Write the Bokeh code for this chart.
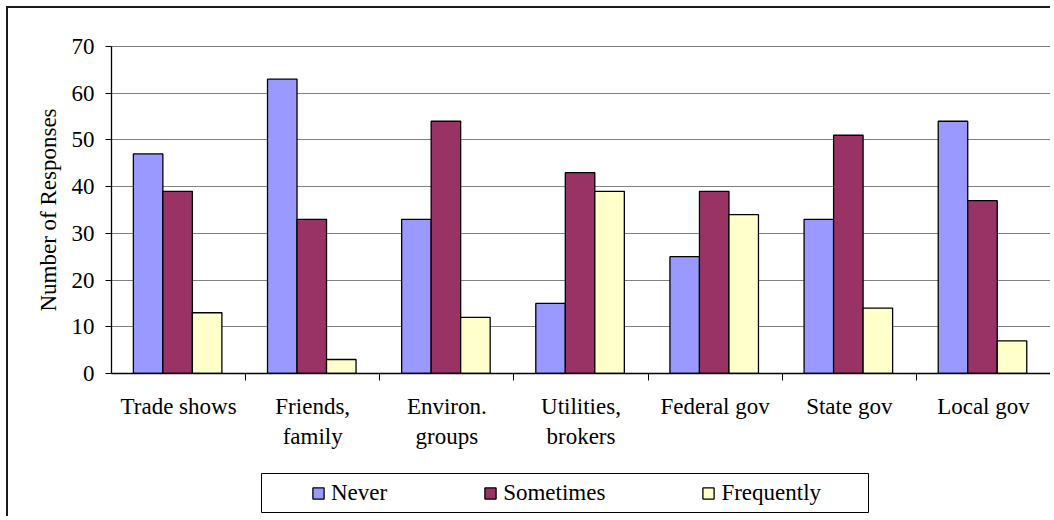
from bokeh.plotting import figure
from bokeh.layouts import column
from bokeh.models import (FactorRange, Range1d, CategoricalAxis, FixedTicker,
                          Legend, LegendItem, ColumnDataSource, CustomLabelingPolicy)
from bokeh.transform import dodge
from bokeh.embed import file_html
from bokeh.resources import INLINE

# ---- data ----
categories = ["Trade shows", "Friends, family", "Environ. groups", "Utilities, brokers",
              "Federal gov", "State gov", "Local gov"]
category_labels = ["Trade shows", "Friends,\nfamily", "Environ.\ngroups", "Utilities,\nbrokers",
                   "Federal gov", "State gov", "Local gov"]
series = ["Never", "Sometimes", "Frequently"]
never = [47, 63, 33, 15, 25, 33, 54]
sometimes = [39, 33, 54, 43, 39, 51, 37]
frequently = [13, 3, 12, 39, 34, 14, 7]
y_ticks = [0, 10, 20, 30, 40, 50, 60, 70]
y_label = "Number of Responses"

colors = ["#9999FF", "#993366", "#FFFFCC"]
FONT = "Liberation Serif"
FS = "23px"
EDGE = "2px solid #1a1a1a"

W = 1044
p = figure(x_range=FactorRange(factors=categories), y_range=Range1d(0, 70),
           width=W, height=466, output_backend="svg", toolbar_location=None,
           x_axis_location=None,
           min_border_left=103, min_border_right=2, min_border_top=38, min_border_bottom=101)
p.frame_align = False
p.styles = {"margin-left": "6px", "margin-top": "6px", "border-left": EDGE, "border-top": EDGE}
p.background_fill_color = "white"
p.border_fill_color = "white"
p.outline_line_color = "#808080"
p.outline_line_width = 1
p.xgrid.grid_line_color = None

# y axis
yax = p.yaxis[0]
yax.ticker = FixedTicker(ticks=y_ticks)
yax.axis_label = y_label
yax.axis_label_text_font = FONT
yax.axis_label_text_font_size = FS
yax.axis_label_text_font_style = "normal"
yax.axis_label_text_color = "black"
yax.axis_label_standoff = 8
yax.major_label_text_font = FONT
yax.major_label_text_font_size = FS
yax.major_label_text_color = "black"
yax.major_label_standoff = 11
yax.major_tick_in = 0
yax.major_tick_out = 6
yax.minor_tick_in = 0
yax.minor_tick_out = 0
yax.axis_line_color = "black"
yax.axis_line_width = 1.3
yax.major_tick_line_color = "black"
p.ygrid.grid_line_color = "#808080"
p.ygrid.grid_line_width = 1

# x axes: category-boundary ticks, then first and second label lines
lines = [lab.split("\n") for lab in category_labels]
first_lines = [ls[0] for ls in lines]
second_lines = [ls[1] if len(ls) > 1 else f"-{i}" for i, ls in enumerate(lines)]
single = [i for i, ls in enumerate(lines) if len(ls) < 2]
boundaries = [f"b{i}" for i in range(len(categories) + 1)]

p.extra_x_ranges = {
    "slots": FactorRange(factors=boundaries, range_padding=-0.5, range_padding_units="absolute"),
    "line1": FactorRange(factors=first_lines),
    "line2": FactorRange(factors=second_lines),
}
tick_axis = CategoricalAxis(x_range_name="slots",
                            major_label_policy=CustomLabelingPolicy(
                                code="for (const i of indices) { indices.unset(i) }\nreturn indices"),
                            major_label_text_font_size="0px", major_label_standoff=0,
                            major_tick_in=0, major_tick_out=7,
                            axis_line_color="black", axis_line_width=1.3,
                            major_tick_line_color="black")
p.add_layout(tick_axis, "below")

label_style = dict(axis_line_color=None, major_tick_line_color=None,
                   major_tick_in=0, major_tick_out=0,
                   major_label_text_font=FONT, major_label_text_font_size=FS,
                   major_label_text_color="black")
line1_axis = CategoricalAxis(x_range_name="line1", major_label_standoff=13, **label_style)
p.add_layout(line1_axis, "below")
hide_code = ("const hidden = [%s]\nfor (const i of indices) { if (hidden.includes(i)) indices.unset(i) }\nreturn indices"
             % ",".join(str(i) for i in single))
line2_axis = CategoricalAxis(x_range_name="line2", major_label_standoff=2,
                             major_label_policy=CustomLabelingPolicy(code=hide_code),
                             **label_style)
p.add_layout(line2_axis, "below")

# bars
src = ColumnDataSource(dict(cat=categories, Never=never, Sometimes=sometimes, Frequently=frequently))
for name, off, col in zip(series, [-0.22, 0.0, 0.22], colors):
    p.vbar(x=dodge("cat", off - 0.007, range=p.x_range), top=name, width=0.22, source=src,
           fill_color=col, line_color="black", line_width=1.3)

# legend panel (its frame is the legend box)
lg = figure(x_range=FactorRange(factors=categories), y_range=Range1d(0, 70),
            width=W, height=44, output_backend="svg", toolbar_location=None,
            x_axis_location=None, y_axis_location=None,
            min_border_left=253, min_border_right=184, min_border_top=1, min_border_bottom=4)
lg.frame_align = False
lg.styles = {"margin-left": "6px", "border-left": EDGE}
lg.outline_line_color = "black"
lg.outline_line_width = 1
lg.xgrid.grid_line_color = None
lg.ygrid.grid_line_color = None
lg.background_fill_color = "white"
lg.border_fill_color = "white"
items = []
for name, col in zip(series, colors):
    r = lg.vbar(x="cat", top=name, width=0.22, source=src, fill_color=col,
                line_color="black", line_width=1.3, visible=False)
    items.append(LegendItem(label=name, renderers=[r]))
legend = Legend(items=items, orientation="horizontal", location="left", margin=50,
                border_line_color=None, background_fill_alpha=0, padding=0,
                spacing=96, glyph_width=14, glyph_height=14, label_standoff=6,
                label_text_font=FONT, label_text_font_size=FS, label_text_color="black")
lg.add_layout(legend, "center")

layout = column(p, lg, spacing=0)

open("out.html", "w").write(file_html(layout, INLINE))
